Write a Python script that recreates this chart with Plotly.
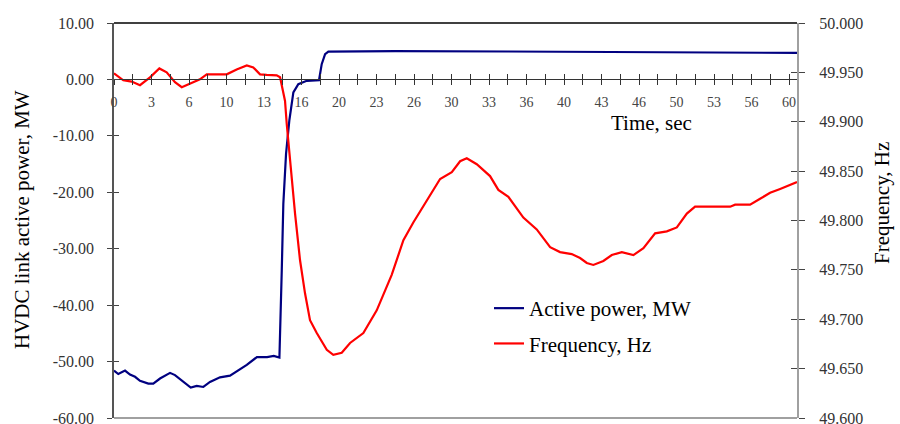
import plotly.graph_objects as go

# ---- data ----
power_t = [0, 0.38, 0.98, 1.42, 1.87, 2.31, 3.05, 3.49, 4.09, 4.98, 5.42, 6.16, 6.82, 7.35,
           7.94, 8.53, 9.42, 10.31, 10.9, 11.8, 12.7, 13.6, 14.2, 14.7, 14.91, 15.05, 15.29,
           15.58, 15.94, 16.38, 17.13, 18.22, 18.46, 18.76, 19.05, 25, 35, 45, 55, 60.7]
power_mw = [-51.6, -52.2, -51.6, -52.3, -52.7, -53.4, -53.9, -53.9, -53.0, -52.0, -52.4,
            -53.6, -54.6, -54.3, -54.5, -53.6, -52.8, -52.5, -51.7, -50.6, -49.2, -49.2,
            -49.0, -49.3, -33.8, -22.0, -13.2, -7.3, -2.3, -0.84, -0.25, -0.13, 2.7, 4.47,
            4.93, 5.0, 4.95, 4.85, 4.75, 4.7]

freq_t = [0, 0.83, 1.57, 2.31, 3.2, 4.03, 4.68, 5.42, 6.02, 6.76, 7.64, 8.24, 10.02, 10.9,
          11.8, 12.38, 12.98, 13.57, 14.46, 14.76, 15.05, 15.2, 15.35, 15.49, 15.64, 15.7,
          16.09, 16.53, 16.98, 17.42, 18.02, 18.91, 19.49, 20.24, 20.98, 22.16, 23.35,
          24.68, 25.72, 26.6, 27.49, 28.98, 30.02, 30.76, 31.35, 32.24, 33.42, 34.16,
          35.05, 36.38, 37.57, 38.76, 39.64, 40.68, 41.42, 42.02, 42.6, 43.49, 44.24,
          45.13, 46.16, 47.05, 48.09, 49.13, 50.02, 50.91, 51.64, 53.27, 54.76, 55.2,
          56.53, 57.42, 58.31, 59.2, 60.38, 60.7]
freq_hz = [49.949, 49.942, 49.9407, 49.937, 49.945, 49.954, 49.950, 49.940, 49.935, 49.939,
           49.943, 49.948, 49.948, 49.953, 49.957, 49.955, 49.948, 49.9475, 49.947, 49.945,
           49.928, 49.921, 49.898, 49.881, 49.867, 49.852, 49.807, 49.760, 49.726, 49.699,
           49.686, 49.669, 49.664, 49.666, 49.676, 49.686, 49.709, 49.745, 49.780, 49.798,
           49.815, 49.842, 49.849, 49.860, 49.863, 49.857, 49.845, 49.831, 49.824, 49.803,
           49.791, 49.773, 49.768, 49.766, 49.762, 49.757, 49.755, 49.759, 49.765, 49.768,
           49.765, 49.772, 49.787, 49.789, 49.793, 49.807, 49.814, 49.814, 49.814, 49.816,
           49.816, 49.822, 49.828, 49.832, 49.838, 49.839]

x_tick_labels = ["0", "3", "6", "10", "13", "16", "20", "23", "26", "30", "33", "36",
                 "40", "43", "46", "50", "53", "56", "60"]
x_tick_step = 10 / 3
x_major = [i * x_tick_step for i in range(len(x_tick_labels))]
x_minor = [(i + 0.5) * x_tick_step for i in range(len(x_tick_labels))]

left_ticks = [10, 0, -10, -20, -30, -40, -50, -60]
right_ticks = [50.0, 49.95, 49.9, 49.85, 49.8, 49.75, 49.7, 49.65, 49.6]

X_RANGE = [0, 60.7]
Y_RANGE = [-60, 10]
Y2_RANGE = [49.6, 50.0]

SERIF = "Liberation Serif"
TXT = "#222222"

fig = go.Figure()
fig.add_trace(go.Scatter(x=power_t, y=power_mw, mode="lines", name="Active power, MW",
                         line=dict(color="#000080", width=2.2), legendgroup="a",
                         xaxis="x", yaxis="y"))
fig.add_trace(go.Scatter(x=freq_t, y=freq_hz, mode="lines", name="Frequency, Hz",
                         line=dict(color="#ff0000", width=2.2), legendgroup="b",
                         xaxis="x", yaxis="y2"))
# empty helper traces so the crossing-tick overlay axes are drawn
fig.add_trace(go.Scatter(x=[], y=[], xaxis="x2", yaxis="y3", showlegend=False, hoverinfo="skip"))
fig.add_trace(go.Scatter(x=[], y=[], xaxis="x2", yaxis="y4", showlegend=False, hoverinfo="skip"))

zero_pos = (0 - Y_RANGE[0]) / (Y_RANGE[1] - Y_RANGE[0])

xcommon = dict(range=X_RANGE, tickmode="array", tickvals=x_major, showgrid=False,
               zeroline=False, anchor="free", position=zero_pos, automargin=False)

fig.update_layout(
    width=900, height=424,
    margin=dict(l=114, r=103, t=23, b=6, autoexpand=False),
    paper_bgcolor="white", plot_bgcolor="white",
    font=dict(family=SERIF, color=TXT),
    showlegend=True,
    legend=dict(x=(489 - 114) / 683, y=(418 - 288) / 395, xanchor="left", yanchor="top",
                bgcolor="rgba(0,0,0,0)", font=dict(size=21, family=SERIF, color="#000"),
                traceorder="grouped", tracegroupgap=5),
    xaxis=dict(**xcommon, ticktext=x_tick_labels, ticks="outside", ticklen=5,
               tickcolor="#333", tickwidth=1, showline=True, linecolor="#333", linewidth=1,
               tickfont=dict(size=14, family=SERIF, color="#444"), ticklabelstandoff=5,
               minor=dict(tickmode="array", tickvals=x_minor, ticks="outside", ticklen=5,
                          tickcolor="#333", tickwidth=1)),
    xaxis2=dict(**xcommon, overlaying="x", ticktext=[""] * len(x_major), ticks="inside",
                ticklen=5, tickcolor="#333", tickwidth=1, showline=False,
                showticklabels=False,
                minor=dict(tickmode="array", tickvals=x_minor, ticks="inside", ticklen=5,
                           tickcolor="#333", tickwidth=1)),
    yaxis=dict(range=Y_RANGE, tickmode="array", tickvals=left_ticks,
               ticktext=[f"{v:.2f}" for v in left_ticks], ticks="outside", ticklen=5,
               tickcolor="#444", showline=True, linecolor="#555", linewidth=1.5,
               showgrid=False, zeroline=False, anchor="x", side="left", automargin=False,
               ticklabeloverflow="allow",
               tickfont=dict(size=16, family=SERIF, color="#333"), ticklabelstandoff=10),
    yaxis2=dict(range=Y2_RANGE, tickmode="array", tickvals=right_ticks,
                ticktext=[f"{v:.3f}" for v in right_ticks], ticks="outside", ticklen=6,
                tickcolor="#444", showline=True, linecolor="#a0a0a0", linewidth=2,
                showgrid=False, zeroline=False, overlaying="y", side="right", anchor="x",
                automargin=False, ticklabeloverflow="allow",
                tickfont=dict(size=16, family=SERIF, color="#333"), ticklabelstandoff=11),
    yaxis3=dict(range=Y_RANGE, tickmode="array", tickvals=left_ticks, ticks="inside",
                ticklen=5, tickcolor="#444", showline=False, showgrid=False, zeroline=False,
                showticklabels=False, overlaying="y", side="left", anchor="x2",
                automargin=False),
    yaxis4=dict(range=Y2_RANGE, tickmode="array", tickvals=right_ticks, ticks="inside",
                ticklen=6, tickcolor="#444", showline=False, showgrid=False, zeroline=False,
                showticklabels=False, overlaying="y", side="right", anchor="x2",
                automargin=False),
    shapes=[
        dict(type="line", xref="paper", yref="paper", x0=0, x1=1, y0=1, y1=1,
             line=dict(color="#000", width=1.5)),
        dict(type="line", xref="paper", yref="paper", x0=0, x1=1, y0=0, y1=0,
             line=dict(color="#a0a0a0", width=2)),
    ],
    annotations=[
        dict(text="HVDC link active power, MW", xref="paper", yref="paper",
             x=(22 - 114) / 683, y=(418 - 220) / 395, textangle=-90, showarrow=False,
             xanchor="center", yanchor="middle", font=dict(size=21, family=SERIF, color="#000")),
        dict(text="Frequency, Hz", xref="paper", yref="paper",
             x=(882 - 114) / 683, y=(418 - 203) / 395, textangle=-90, showarrow=False,
             xanchor="center", yanchor="middle", font=dict(size=21, family=SERIF, color="#000")),
        dict(text="Time, sec", xref="paper", yref="paper",
             x=(651 - 114) / 683, y=(418 - 123) / 395, showarrow=False,
             xanchor="center", yanchor="middle", font=dict(size=21, family=SERIF, color="#000")),
    ],
)

fig.write_html("out.html", config={"displayModeBar": False},
               post_script="document.body.style.margin='0px';")
